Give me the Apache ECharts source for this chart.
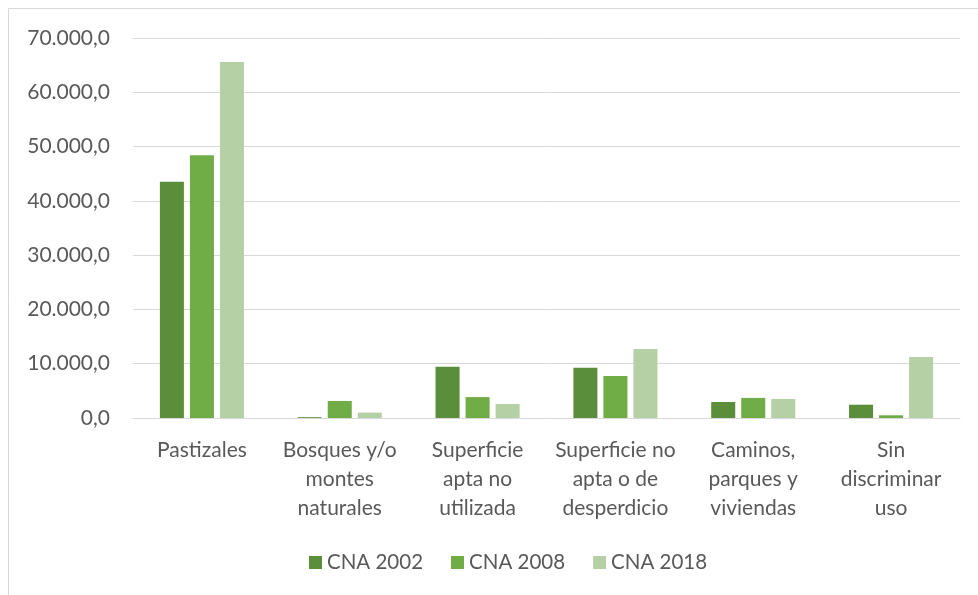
<!DOCTYPE html>
<html>
<head>
<meta charset="utf-8">
<script src="https://cdn.jsdelivr.net/npm/echarts@6/dist/echarts.min.js"></script>
<style>
  html, body { margin: 0; padding: 0; background: #fff; }
  #main { width: 978px; height: 595px; }
</style>
</head>
<body>
<div id="main"></div>
<script>
var categories = [
  'Pastizales',
  'Bosques y/o\nmontes\nnaturales',
  'Superficie\napta no\nutilizada',
  'Superficie no\napta o de\ndesperdicio',
  'Caminos,\nparques y\nviviendas',
  'Sin\ndiscriminar\nuso'
];
var cna2002 = [43500, 150, 9450, 9250, 2950, 2450];
var cna2008 = [48400, 3130, 3850, 7750, 3700, 500];
var cna2018 = [65600, 1000, 2580, 12700, 3500, 11250];
var yTicks = { min: 0, max: 70000, interval: 10000 };

function fmt(v) {
  var s = Math.round(v).toString().replace(/\B(?=(\d{3})+(?!\d))/g, '.');
  return s + ',0';
}

var font = 'Lato';
var textColor = '#595959';
var fs = 20.5;

var option = {
  animation: false,
  textStyle: { fontFamily: font },
  graphic: [{
    type: 'rect',
    shape: { x: 8.5, y: 8.5, width: 990, height: 620 },
    style: { fill: 'none', stroke: '#d9d9d9', lineWidth: 1 },
    silent: true
  }],
  legend: {
    bottom: 17,
    left: 304,
    itemWidth: 13,
    itemHeight: 13,
    itemGap: 28,
    icon: 'rect',
    textStyle: { color: textColor, fontSize: fs, fontFamily: font }
  },
  grid: { left: 133, right: 18, top: 38, bottom: 177, containLabel: false },
  xAxis: {
    type: 'category',
    data: categories,
    axisTick: { show: false },
    axisLine: { lineStyle: { color: '#d9d9d9', width: 1 } },
    axisLabel: { color: textColor, fontSize: 21, fontFamily: font, lineHeight: 29, margin: 18, interval: 0 }
  },
  yAxis: {
    type: 'value',
    min: yTicks.min,
    max: yTicks.max,
    interval: yTicks.interval,
    axisLine: { show: false },
    axisTick: { show: false },
    splitLine: { lineStyle: { color: '#d9d9d9', width: 1 } },
    axisLabel: { color: textColor, fontSize: 21, fontFamily: font, margin: 23, formatter: fmt }
  },
  series: [
    { name: 'CNA 2002', type: 'bar', data: cna2002, barGap: '25%', barCategoryGap: '39%',
      itemStyle: { color: '#5B8E3A' } },
    { name: 'CNA 2008', type: 'bar', data: cna2008,
      itemStyle: { color: '#70AD47' } },
    { name: 'CNA 2018', type: 'bar', data: cna2018,
      itemStyle: { color: '#B5D0A5' } }
  ]
};

var chart = echarts.init(document.getElementById('main'));
chart.setOption(option);
</script>
</body>
</html>
